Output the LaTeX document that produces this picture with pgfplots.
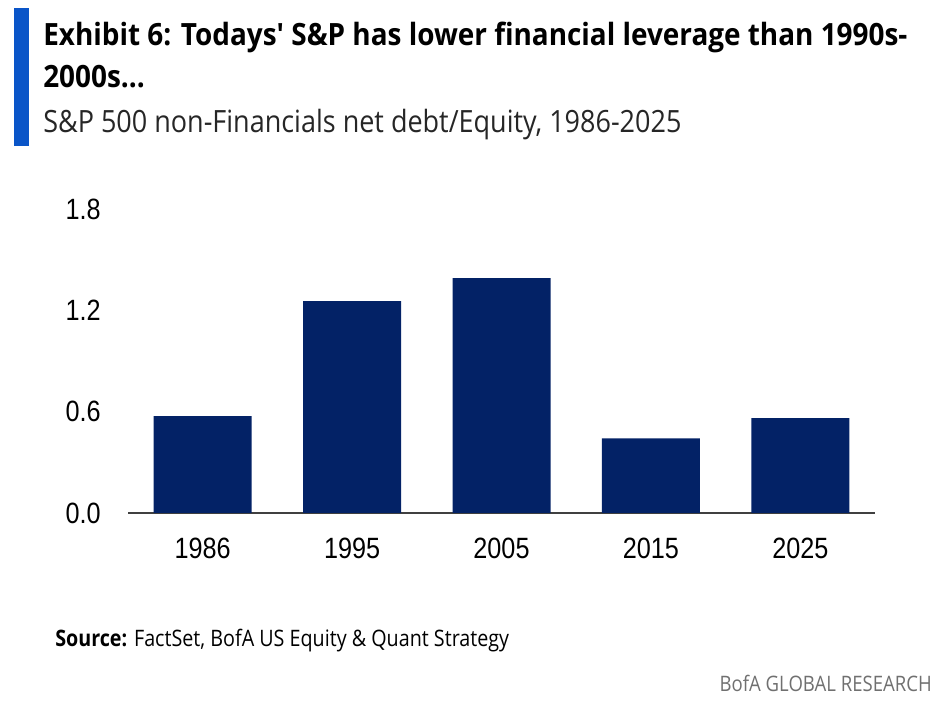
\documentclass[border=0pt]{standalone}
\usepackage{fontspec}
\setmainfont{Liberation Sans}
\newfontfamily\titlefont[FakeStretch=0.91]{Open Sans}
\newfontfamily\subfont[FakeStretch=0.88]{Open Sans}
\newfontfamily\footfont[FakeStretch=0.87]{Open Sans}
\newfontfamily\tickfont[FakeStretch=0.86]{Liberation Sans}
\usepackage{pgfplots}
\pgfplotsset{compat=1.18}
\definecolor{barblue}{HTML}{032266}
\definecolor{accent}{HTML}{0A55C8}
\definecolor{footgray}{HTML}{707070}

\begin{document}
\begin{tikzpicture}
% page = 948 x 716 px at 0.75pt per px
\path[use as bounding box] (0,0) rectangle (711pt,537pt);
\fill[accent] (10.5pt,427.5pt) rectangle (21.75pt,531pt);

\node[anchor=base west, inner sep=0pt] at (32.25pt,502.5pt)
  {\titlefont\bfseries\fontsize{23pt}{26pt}\selectfont Exhibit 6: Todays' S\&P has lower financial leverage than 1990s-};
\node[anchor=base west, inner sep=0pt] at (32.25pt,471pt)
  {\titlefont\bfseries\fontsize{23pt}{26pt}\selectfont 2000s...};
\node[anchor=base west, inner sep=0pt, text=black!85] at (32.25pt,437.25pt)
  {\subfont\fontsize{23pt}{26pt}\selectfont S\&P 500 non-Financials net debt/Equity, 1986-2025};

\begin{axis}[
  at={(96pt,152.25pt)}, anchor=south west,
  scale only axis, width=560.25pt, height=228pt,
  xmin=-0.5, xmax=4.5, ymin=0, ymax=1.8,
  ybar, bar width=0.656, bar shift=0pt,
  xtick={0,1,2,3,4},
  xticklabels={1986,1995,2005,2015,2025},
  ytick={0,0.6,1.2,1.8},
  yticklabels={0.0,0.6,1.2,1.8},
  axis x line*=bottom, axis y line*=left,
  x axis line style={-, draw=black!75, line width=1.4pt},
  y axis line style={draw=none},
  major tick length=0pt,
  tick style={draw=none},
  ticklabel style={font=\tickfont\fontsize{22pt}{24pt}\selectfont, text=black},
  yticklabel style={anchor=east, xshift=-17pt},
  xticklabel style={anchor=north, yshift=-15pt},
  clip=false,
]
\addplot[fill=barblue, draw=none] coordinates
  {(0,0.574) (1,1.255) (2,1.391) (3,0.442) (4,0.561)};
\end{axis}

\node[anchor=base west, inner sep=0pt] at (41.25pt,51.75pt)
  {\footfont\fontsize{17pt}{19pt}\selectfont\textbf{Source:} FactSet, BofA US Equity \& Quant Strategy};
\node[anchor=base east, inner sep=0pt, text=footgray] at (699pt,18pt)
  {\footfont\fontsize{16pt}{18pt}\selectfont BofA GLOBAL RESEARCH};
\end{tikzpicture}
\end{document}
